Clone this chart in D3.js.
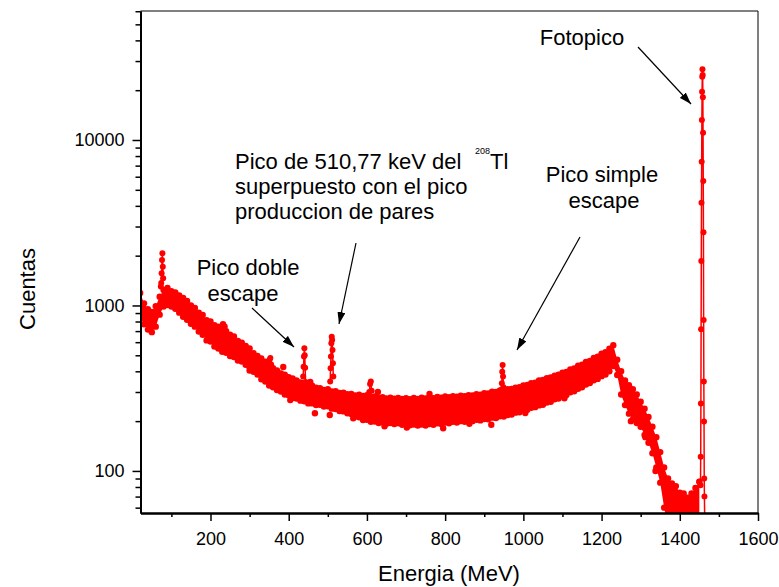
<!DOCTYPE html>
<html>
<head>
<meta charset="utf-8">
<script src="https://cdn.jsdelivr.net/npm/d3@7"></script>
<style>
  body { margin: 0; background: #fff; }
  text { font-family: "Liberation Sans", Arial, sans-serif; }
</style>
</head>
<body>
<div id="chart"></div>
<script>
// channel energies of the background band
const energy = [20, 30, 40, 50, 60, 70, 80, 90, 100, 110,
  120, 130, 140, 150, 160, 170, 180, 190, 200, 210,
  220, 230, 240, 250, 260, 270, 280, 290, 300, 310,
  320, 330, 340, 350, 360, 370, 380, 390, 400, 410,
  420, 430, 440, 450, 460, 470, 480, 490, 500, 510,
  520, 530, 540, 550, 560, 570, 580, 590, 600, 610,
  620, 630, 640, 650, 660, 670, 680, 690, 700, 710,
  720, 730, 740, 750, 760, 770, 780, 790, 800, 810,
  820, 830, 840, 850, 860, 870, 880, 890, 900, 910,
  920, 930, 940, 950, 960, 970, 980, 990, 1000, 1010,
  1020, 1030, 1040, 1050, 1060, 1070, 1080, 1090, 1100, 1110,
  1120, 1130, 1140, 1150, 1160, 1170, 1180, 1190, 1200, 1210,
  1220, 1230, 1240, 1250, 1260, 1270, 1280, 1290, 1300, 1310,
  1320, 1330, 1340, 1350, 1360, 1370, 1380, 1390, 1400, 1410,
  1420, 1430, 1440, 1450];

// upper edge of the noisy counts band
const upperCounts = [1190, 1030, 950, 915, 990, 1130, 1240, 1275, 1220, 1200,
  1150, 1110, 1065, 1000, 965, 905, 875, 815, 800, 760,
  745, 735, 700, 665, 650, 610, 595, 570, 550, 515,
  495, 478, 458, 448, 418, 405, 388, 382, 368, 362,
  352, 343, 338, 328, 327, 318, 316, 309, 312, 302,
  303, 296, 297, 291, 292, 286, 289, 284, 287, 280,
  282, 276, 279, 274, 277, 273, 276, 272, 275, 271,
  276, 272, 277, 274, 279, 275, 280, 277, 282, 279,
  283, 281, 285, 283, 287, 286, 291, 289, 295, 294,
  301, 300, 307, 306, 312, 313, 319, 321, 329, 331,
  339, 342, 352, 355, 364, 367, 377, 381, 392, 397,
  410, 417, 432, 438, 455, 462, 481, 490, 512, 522,
  548, 575, 470, 400, 352, 330, 312, 290, 262, 238,
  212, 185, 160, 130, 105, 90, 84, 81, 74, 73,
  69, 73, 79, 86];

// lower edge of the noisy counts band
const lowerCounts = [850, 770, 715, 690, 745, 880, 985, 1005, 985, 955,
  905, 855, 820, 775, 745, 695, 665, 615, 605, 565,
  550, 525, 518, 495, 488, 465, 458, 438, 422, 398,
  383, 358, 347, 328, 320, 308, 302, 290, 287, 276,
  274, 266, 264, 256, 256, 250, 251, 245, 246, 238,
  237, 230, 229, 223, 221, 213, 211, 203, 204, 198,
  199, 195, 197, 193, 195, 192, 194, 190, 193, 189,
  191, 188, 191, 188, 192, 190, 194, 192, 196, 194,
  198, 196, 200, 198, 202, 200, 204, 202, 206, 205,
  210, 209, 214, 213, 218, 219, 225, 226, 233, 234,
  241, 243, 249, 251, 259, 262, 271, 274, 284, 288,
  299, 303, 314, 320, 333, 340, 353, 360, 374, 383,
  400, 430, 380, 290, 250, 222, 205, 195, 185, 165,
  148, 128, 105, 85, 60, 45, 40, 40, 40, 40,
  40, 40, 40, 45];

// narrow peaks on top of the band
const lowPeakEnergy = [73, 74, 75, 76, 77, 78, 79];
const lowPeakCounts = [1300, 1365, 1565, 1880, 2065, 1715, 1460];
const pbPeakEnergy = [349, 351, 353, 355];
const pbPeakCounts = [430, 470, 482, 440];
const doubleEscEnergy = [437, 438, 439, 440, 441, 442, 443];
const doubleEscCounts = [372, 427, 491, 551, 500, 420, 345];
const annihEnergy = [506, 507, 508, 509, 510, 511, 512, 513, 514];
const annihCounts = [347, 418, 491, 592, 647, 618, 538, 447, 372];
const biPeakEnergy = [606, 608, 610, 612];
const biPeakCounts = [300, 335, 347, 305];
const singleEscEnergy = [944, 945, 946, 947, 948, 949];
const singleEscCounts = [309, 339, 398, 437, 372, 320];
const photoEnergy = [1450, 1453, 1453.5, 1454, 1454.5, 1455, 1455.5, 1456, 1456.5, 1457, 1457.5, 1458,
  1458.5, 1459, 1459.5, 1460, 1460.5, 1461, 1461.5, 1462, 1462.5, 1463, 1464];
const photoCounts = [86, 82, 122, 256, 718, 1858, 4180, 7390, 13210, 19590, 24140, 26740,
  24700, 18120, 11070, 5650, 2770, 817, 347, 199, 90, 70, 45];

// stray channels outside the band
const outlierEnergy = [232, 236, 300, 386, 404, 455, 467, 505, 565, 628, 645, 702, 760, 795, 862, 918, 1005, 1105, 1275, 1312, 1338];
const outlierCounts = [770, 745, 405, 425, 268, 345, 223, 218, 208, 300, 186, 183, 292, 181, 193, 190, 224, 275, 200, 160, 100];

const xMajor = [200, 400, 600, 800, 1000, 1200, 1400, 1600];
const xMinor = [100, 300, 500, 700, 900, 1100, 1300, 1500];
const yMajor = [100, 1000, 10000];
const yMinor = [60, 70, 80, 90, 200, 300, 400, 500, 600, 700, 800, 900,
  2000, 3000, 4000, 5000, 6000, 7000, 8000, 9000, 20000, 30000, 40000, 50000, 60000];

const red = "#ff0000";
const plotLeft = 140.5, plotRight = 758, plotTop = 11, plotBottom = 513;

const svg = d3.select("#chart").append("svg")
  .attr("width", 779)
  .attr("height", 587);

const x = d3.scaleLinear().domain([21, 1600]).range([plotLeft, plotRight]);
const y = d3.scaleLog().domain([55.7, 60200]).range([plotBottom, plotTop]);

const defs = svg.append("defs");
defs.append("clipPath").attr("id", "plotClip")
  .append("rect")
  .attr("x", plotLeft).attr("y", plotTop)
  .attr("width", plotRight - plotLeft).attr("height", plotBottom - plotTop);

defs.append("marker")
  .attr("id", "arrow")
  .attr("viewBox", "0 0 12 8")
  .attr("refX", 12).attr("refY", 4)
  .attr("markerWidth", 12).attr("markerHeight", 8)
  .attr("markerUnits", "userSpaceOnUse")
  .attr("orient", "auto")
  .append("path")
  .attr("d", "M0,0 L12,4 L0,8 Z")
  .attr("fill", "#000");

// data
const plot = svg.append("g").attr("clip-path", "url(#plotClip)");

const band = energy.map((e, i) => ({ e: e, hi: upperCounts[i], lo: lowerCounts[i] }));

plot.append("path")
  .datum(band)
  .attr("fill", red)
  .attr("d", d3.area().x(d => x(d.e)).y0(d => y(d.lo)).y1(d => y(d.hi)));

plot.append("g").selectAll("circle").data(band).enter().append("circle")
  .attr("cx", d => x(d.e)).attr("cy", d => y(d.hi)).attr("r", 3.2).attr("fill", red);
plot.append("g").selectAll("circle").data(band).enter().append("circle")
  .attr("cx", d => x(d.e)).attr("cy", d => y(d.lo)).attr("r", 3.2).attr("fill", red);

const line = d3.line().x(d => x(d[0])).y(d => y(d[1]));

function drawPeak(es, cs) {
  const pts = es.map((e, i) => [e, cs[i]]);
  plot.append("path").datum(pts)
    .attr("fill", "none").attr("stroke", red).attr("stroke-width", 1.5)
    .attr("d", line);
  plot.append("g").selectAll("circle").data(pts).enter().append("circle")
    .attr("cx", d => x(d[0])).attr("cy", d => y(d[1])).attr("r", 3).attr("fill", red);
}

drawPeak(lowPeakEnergy, lowPeakCounts);
drawPeak(pbPeakEnergy, pbPeakCounts);
drawPeak(doubleEscEnergy, doubleEscCounts);
drawPeak(annihEnergy, annihCounts);
drawPeak(biPeakEnergy, biPeakCounts);
drawPeak(singleEscEnergy, singleEscCounts);
drawPeak(photoEnergy, photoCounts);

plot.append("g").selectAll("circle").data(outlierEnergy).enter().append("circle")
  .attr("cx", d => x(d)).attr("cy", (d, i) => y(outlierCounts[i])).attr("r", 3.2).attr("fill", red);

// frame
svg.append("path")
  .attr("d", `M${plotLeft},${plotTop}H${plotRight}V${plotBottom}`)
  .attr("fill", "none").attr("stroke", "#000").attr("stroke-width", 1);

// axes
const xAxisG = svg.append("g").attr("transform", `translate(0,${plotBottom})`);
xAxisG.append("g").call(d3.axisBottom(x).tickValues(xMinor).tickSize(4).tickSizeOuter(0).tickFormat(""));
xAxisG.append("g").call(d3.axisBottom(x).tickValues(xMajor).tickSize(8).tickSizeOuter(0).tickPadding(11).tickFormat(d3.format("d")));

const yAxisG = svg.append("g").attr("transform", `translate(${plotLeft},0)`);
yAxisG.append("g").call(d3.axisLeft(y).tickValues(yMinor).tickSize(5).tickSizeOuter(0).tickFormat(""));
yAxisG.append("g").call(d3.axisLeft(y).tickValues(yMajor).tickSize(8).tickSizeOuter(0).tickPadding(8).tickFormat(d3.format("d")));

svg.selectAll(".domain").attr("stroke", "#000").attr("stroke-width", 2);
svg.selectAll(".tick line").attr("stroke", "#000").attr("stroke-width", 1.5);
svg.selectAll(".tick text")
  .attr("fill", "#000")
  .style("font-size", "18px")
  .style("font-family", "'Liberation Sans', Arial, sans-serif");

// axis titles
svg.append("text")
  .attr("x", 449).attr("y", 581)
  .attr("text-anchor", "middle")
  .style("font-size", "22px")
  .text("Energia (MeV)");

svg.append("text")
  .attr("transform", "translate(35,289) rotate(-90)")
  .attr("text-anchor", "middle")
  .style("font-size", "22px")
  .text("Cuentas");

// annotations
const notes = [
  { t: "Fotopico", x: 582, y: 45 },
  { t: "Pico de 510,77 keV del", x: 235, y: 169, anchor: "start" },
  { t: "superpuesto con el pico", x: 235, y: 194, anchor: "start" },
  { t: "produccion de pares", x: 235, y: 219, anchor: "start" },
  { t: "Pico simple", x: 602, y: 182 },
  { t: "escape", x: 604, y: 208 },
  { t: "Pico doble", x: 248, y: 275 },
  { t: "escape", x: 243, y: 301 }
];
svg.selectAll(".note").data(notes).enter().append("text")
  .attr("class", "note")
  .attr("x", d => d.x).attr("y", d => d.y)
  .attr("text-anchor", d => d.anchor || "middle")
  .style("font-size", "22px")
  .text(d => d.t);

svg.append("text")
  .attr("x", 475).attr("y", 154)
  .style("font-size", "9px")
  .text("208");
svg.append("text")
  .attr("x", 490).attr("y", 169)
  .style("font-size", "22px")
  .text("Tl");

const arrows = [
  [638, 47, 691, 104],
  [356, 243, 339, 324],
  [580, 237, 517, 350],
  [252, 308, 294, 347]
];
svg.selectAll(".arrow").data(arrows).enter().append("line")
  .attr("class", "arrow")
  .attr("x1", d => d[0]).attr("y1", d => d[1])
  .attr("x2", d => d[2]).attr("y2", d => d[3])
  .attr("stroke", "#000").attr("stroke-width", 1.2)
  .attr("marker-end", "url(#arrow)");
</script>
</body>
</html>
